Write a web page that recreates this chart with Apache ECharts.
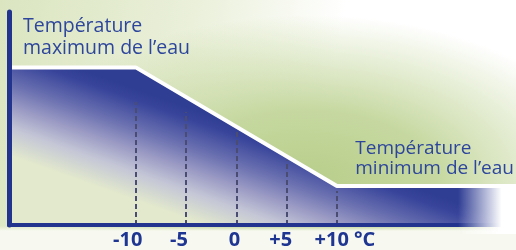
<!DOCTYPE html>
<html>
<head>
<meta charset="utf-8">
<script src="https://cdn.jsdelivr.net/npm/echarts@6/dist/echarts.min.js"></script>
<style>
  html, body { margin: 0; padding: 0; background: #fff; }
  #chart {
    width: 516px; height: 250px;
    background:
      linear-gradient(to bottom, rgba(247,249,240,0) 226px, rgba(247,249,240,1) 231px),
      radial-gradient(ellipse 300px 165px at 310px 180px, rgba(184,206,138,1) 0%, rgba(192,212,150,0.9) 42%, rgba(255,255,255,0) 100%),
      linear-gradient(100deg, #dbe5c0 0%, #eaf0da 35%, #ffffff 62%);
  }
</style>
</head>
<body>
<div id="chart"></div>
<script>
// water temperature (°C) vs level
const temps = [-22.3, -10, 10, 27.8];
const levels = [74, 74, 18.3, 18.3];

// tick positions, their labels, and where each dashed guide stops
const ticks = [-10, -5, 0, 5, 10];
const tickLabels = ['-10', '-5', '0', '+5', '+10 °C'];
const guideTops = [57.8, 53, 44.3, 30.4, 16];

const navy = '#22348e';
const textBlue = '#2d469c';

const chart = echarts.init(document.getElementById('chart'), null, { renderer: 'canvas' });

// slanted fade: dark towards the upper right, pale towards the lower left
const fill = new echarts.graphic.LinearGradient(20, 48, -15, 147, [
  { offset: 0, color: '#2f3d93' },
  { offset: 0.1, color: '#37449a' },
  { offset: 0.35, color: '#6a70b0' },
  { offset: 0.55, color: '#9a9ac4' },
  { offset: 0.75, color: '#c4c6d6' },
  { offset: 1, color: '#e2e9cc' }
], true);

chart.setOption({
  backgroundColor: 'transparent',
  animation: false,
  grid: { left: 9, right: 0, top: 12, bottom: 22.5 },
  xAxis: {
    type: 'value',
    min: -22.6,
    max: 27.8,
    z: 5,
    axisLine: { show: true, lineStyle: { color: navy, width: 4 } },
    axisTick: { show: false },
    splitLine: { show: false },
    axisLabel: {
      customValues: ticks,
      margin: 5,
      color: '#1f3592',
      fontFamily: 'Open Sans',
      fontWeight: 'bold',
      fontSize: 20,
      formatter: (v) => {
        const i = ticks.indexOf(v);
        return '{s' + i + '|' + tickLabels[i] + '}';
      },
      rich: {
        s0: { padding: [0, 16, 0, 0] },
        s1: { padding: [0, 14, 0, 0] },
        s2: { padding: [0, 4, 0, 0] },
        s3: { padding: [0, 12, 0, 0] },
        s4: { padding: [0, 0, 0, 16] }
      }
    }
  },
  yAxis: {
    type: 'value',
    min: 0,
    max: 100,
    z: 5,
    axisLine: { show: true, onZero: false, lineStyle: { color: navy, width: 5 } },
    axisTick: { show: false },
    axisLabel: { show: false },
    splitLine: { show: false }
  },
  series: [{
    type: 'line',
    data: temps.map((t, i) => [t, levels[i]]),
    symbol: 'none',
    lineStyle: { color: '#ffffff', width: 4 },
    areaStyle: { color: fill, opacity: 1 },
    markLine: {
      silent: true,
      symbol: 'none',
      label: { show: false },
      lineStyle: { color: '#4a4c72', width: 2, type: [5, 3] },
      data: ticks.map((t, i) => [{ coord: [t, 0] }, { coord: [t, guideTops[i]] }])
    },
    z: 2
  }],
  graphic: [
    {
      type: 'rect',
      z: 100,
      shape: { x: 458, y: 184, width: 58, height: 50 },
      style: {
        fill: new echarts.graphic.LinearGradient(0, 0, 1, 0, [
          { offset: 0, color: 'rgba(255,255,255,0)' },
          { offset: 0.75, color: 'rgba(255,255,255,1)' },
          { offset: 1, color: 'rgba(255,255,255,1)' }
        ])
      }
    },
    {
      type: 'text',
      left: 23,
      top: 15,
      z: 101,
      style: {
        text: 'Température\nmaximum de l\u2019eau',
        font: '19.5px "Open Sans"',
        lineHeight: 22.5,
        fill: textBlue
      }
    },
    {
      type: 'text',
      right: 2,
      top: 139,
      z: 101,
      style: {
        text: 'Température\nminimum de l\u2019eau',
        font: '19px "Open Sans"',
        lineHeight: 19.5,
        align: 'right',
        fill: textBlue
      }
    }
  ]
});
</script>
</body>
</html>
